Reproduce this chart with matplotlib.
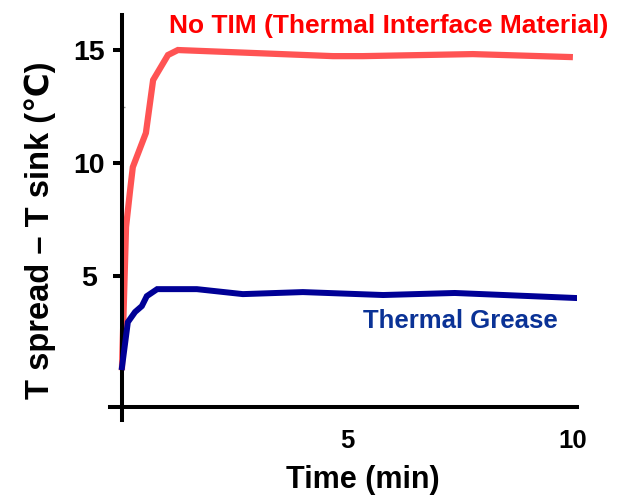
import matplotlib
matplotlib.use("Agg")
import matplotlib.pyplot as plt

# data (time in min, T spread - T sink in C)
t_no_tim = [0.0, 0.09, 0.18, 0.24, 0.53, 0.69, 1.02, 1.24, 4.68, 5.34, 7.78, 9.93]
dT_no_tim = [0.97, 7.17, 8.8, 9.82, 11.33, 13.67, 14.78, 15.0, 14.73, 14.73, 14.82, 14.69]

t_grease = [0.0, 0.13, 0.29, 0.44, 0.55, 0.78, 1.66, 2.68, 4.01, 5.79, 7.38, 10.04]
dT_grease = [0.97, 2.96, 3.41, 3.67, 4.11, 4.42, 4.42, 4.2, 4.29, 4.16, 4.25, 4.03]

yticks = [5, 10, 15]
xticks = [5, 10]

plt.rcParams['font.family'] = ['Liberation Sans', 'DejaVu Sans']
plt.rcParams['font.weight'] = 'bold'

fig = plt.figure(figsize=(6.21, 4.96), dpi=100)
ax = fig.add_axes([110/621, 76/496, 467/621, 405/496])

red = '#FF5353'
navy = '#000096'
ax.plot(t_no_tim, dT_no_tim, color=red, lw=4.5, solid_joinstyle='miter', zorder=2)
ax.plot(t_grease, dT_grease, color=navy, lw=4.3, solid_joinstyle='miter', zorder=3)

ax.set_xlim(-0.266, 10.09)
ax.set_ylim(-1.37, 16.55)

for s in ['top', 'right']:
    ax.spines[s].set_visible(False)
ax.spines['left'].set_position(('data', 0))
ax.spines['bottom'].set_position(('data', -0.8))
ax.spines['left'].set_linewidth(2.9)
ax.spines['bottom'].set_linewidth(2.9)

ax.set_yticks(yticks)
ax.set_yticklabels([str(v) for v in yticks])
ax.set_yticks([2.5, 12.5], minor=True)
ax.tick_params(axis='y', which='major', direction='out', length=6.5, width=2.9,
               labelsize=20.5, pad=17)
ax.tick_params(axis='y', which='minor', direction='in', length=2.5, width=1,
               color='#999999')
for lab in ax.get_yticklabels():
    lab.set_horizontalalignment('center')
    lab.set_fontweight('bold')

ax.set_xticks(xticks)
ax.set_xticklabels([str(v) for v in xticks])
ax.tick_params(axis='x', length=0, labelsize=18.5, pad=16)
for lab in ax.get_xticklabels():
    lab.set_fontweight('bold')

fig.text(363/621, 8/496, 'Time (min)', ha='center', va='baseline',
         fontsize=22, fontweight='bold')
fig.text(40/621, 266/496, 'T spread \u2013 T sink (\u2103)', rotation=90,
         ha='center', va='center', fontsize=23.5, fontweight='bold')
fig.text(389/621, 463/496, 'No TIM (Thermal Interface Material)', ha='center',
         va='baseline', fontsize=19, fontweight='bold', color='#FF0000')
fig.text(460/621, 168/496, 'Thermal Grease', ha='center', va='baseline',
         fontsize=18.5, fontweight='bold', color='#0A3296')

fig.savefig('out.png', dpi=100)
